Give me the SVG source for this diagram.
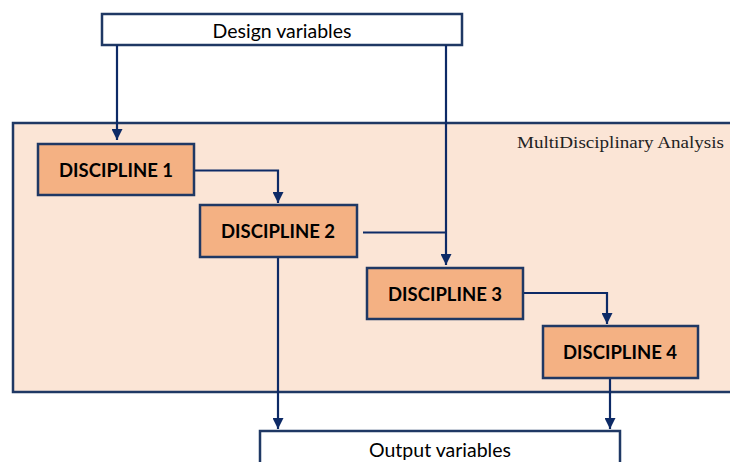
<svg xmlns="http://www.w3.org/2000/svg" width="730" height="462" viewBox="0 0 730 462">
  <style>
    .io { fill: #ffffff; stroke: #1f3864; stroke-width: 2.5; }
    .disc { fill: #f4b183; stroke: #1f3864; stroke-width: 2.5; }
    .mda { fill: #fbe5d6; stroke: #1f3864; stroke-width: 2.5; }
    .io-label { font-family: Lato, "Open Sans", "Liberation Sans", sans-serif; font-size: 19.5px; fill: #000; text-anchor: middle; dominant-baseline: central; }
    .disc-label { font-family: Lato, "Open Sans", "Liberation Sans", sans-serif; font-weight: bold; font-size: 18.5px; fill: #000; text-anchor: middle; dominant-baseline: central; }
    .mda-label { font-family: "Liberation Serif", "DejaVu Serif", serif; font-size: 16px; fill: #222; }
    .link { fill: none; stroke: #0d2a66; stroke-width: 2.2; }
  </style>
  <defs>
    <marker id="arrow" viewBox="0 0 10 10" refX="10" refY="5" markerWidth="5" markerHeight="5" orient="auto" markerUnits="strokeWidth">
      <path d="M0,0 L10,5 L0,10 z" fill="#0d2a66"/>
    </marker>
  </defs>

  <g id="mda">
    <rect class="mda" x="13" y="123" width="730" height="269"/>
    <text class="mda-label" x="517" y="148" textLength="207" lengthAdjust="spacingAndGlyphs">MultiDisciplinary Analysis</text>
  </g>

  <g id="design-variables">
    <rect class="io" x="102" y="14" width="360" height="31"/>
    <text class="io-label" x="282" y="30">Design variables</text>
  </g>

  <g id="output-variables">
    <rect class="io" x="260" y="431" width="360" height="40"/>
    <text class="io-label" x="440" y="449">Output variables</text>
  </g>

  <g id="connectors">
    <path class="link" d="M117,45 V140" marker-end="url(#arrow)"/>
    <path class="link" d="M446,45 V265" marker-end="url(#arrow)"/>
    <path class="link" d="M194,170.5 H278 V203" marker-end="url(#arrow)"/>
    <path class="link" d="M363,232.5 H446"/>
    <path class="link" d="M278,257 V429" marker-end="url(#arrow)"/>
    <path class="link" d="M523,293 H607 V324" marker-end="url(#arrow)"/>
    <path class="link" d="M610,378 V429" marker-end="url(#arrow)"/>
  </g>

  <g id="discipline-1">
    <rect class="disc" x="38" y="144" width="156" height="51"/>
    <text class="disc-label" x="116" y="170">DISCIPLINE 1</text>
  </g>
  <g id="discipline-2">
    <rect class="disc" x="200" y="205" width="157" height="52"/>
    <text class="disc-label" x="278" y="231">DISCIPLINE 2</text>
  </g>
  <g id="discipline-3">
    <rect class="disc" x="367" y="268" width="156" height="51"/>
    <text class="disc-label" x="445" y="294">DISCIPLINE 3</text>
  </g>
  <g id="discipline-4">
    <rect class="disc" x="543" y="326" width="155" height="52"/>
    <text class="disc-label" x="620" y="352">DISCIPLINE 4</text>
  </g>
</svg>
